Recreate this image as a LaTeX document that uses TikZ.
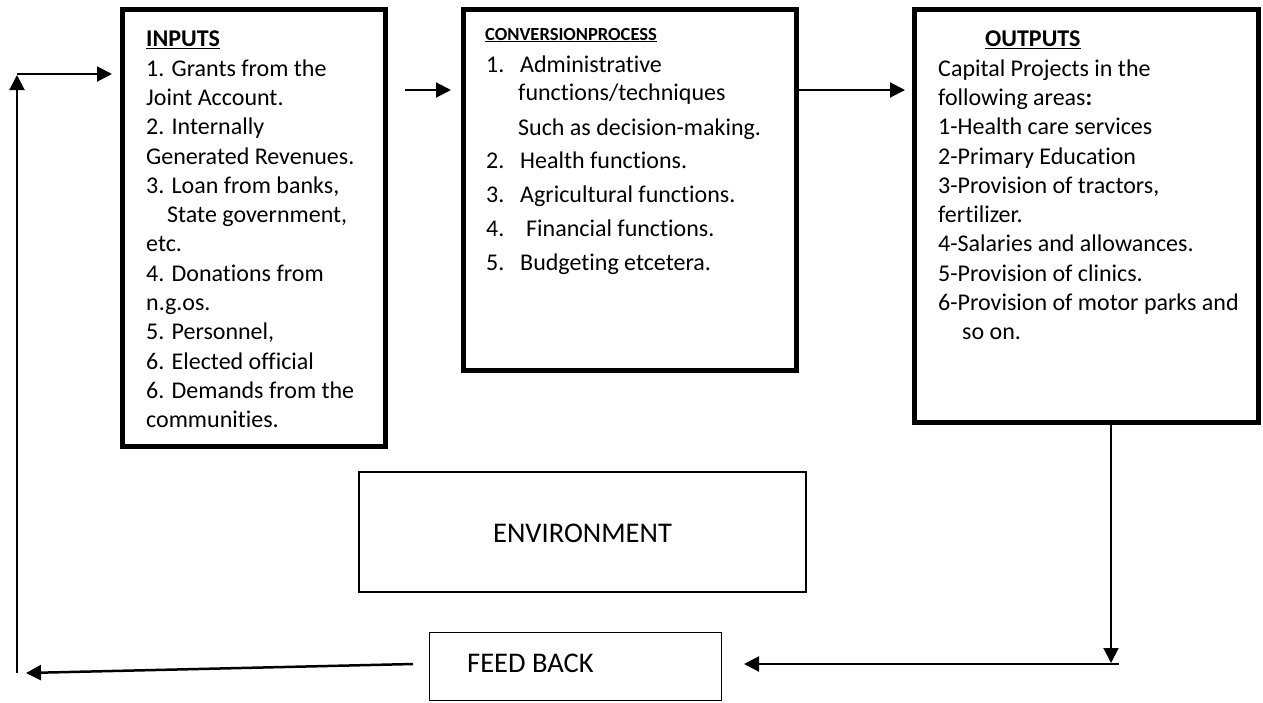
\documentclass[tikz,border=0pt]{standalone}
\usepackage{fontspec}
\setmainfont{Carlito}[Ligatures=NoCommon]
\usetikzlibrary{arrows.meta}
\begin{document}
\begin{tikzpicture}[x=1pt,y=-1pt,
  thickbox/.style={draw, line width=5pt, inner sep=0pt, outer sep=0pt},
  thinbox/.style={draw, line width=1.5pt, inner sep=0pt, outer sep=0pt},
  txt/.style={anchor=base west, inner sep=0pt, font=\fontsize{24}{28}\selectfont},
  hd/.style={anchor=base west, inner sep=0pt, font=\fontsize{24}{28}\selectfont\bfseries},
  shd/.style={anchor=base west, inner sep=0pt, font=\fontsize{18.5}{20}\selectfont\bfseries},
  big/.style={inner sep=0pt, font=\fontsize{28.5}{32}\selectfont},
  arr/.style={line width=2pt, -{Triangle[length=15pt,width=15pt]}}]
\useasboundingbox (0,0) rectangle (1263,702);

% boxes
\node[thickbox, minimum width=263pt, minimum height=437pt] (inputs) at (254,228) {};
\node[thickbox, minimum width=333pt, minimum height=361pt] (conv) at (630,190) {};
\node[thickbox, minimum width=343.5pt, minimum height=413pt] (outputs) at (1086.25,216) {};
\node[thinbox, minimum width=447pt, minimum height=120pt] (env) at (582.5,532) {};
\node[thinbox, minimum width=292pt, minimum height=68pt] (fb) at (575.5,666.5) {};

% inputs text
\node[hd] (i0) at (146,46.7) {\underline{INPUTS}};
\node[txt] (i1) at (146,76) {1. Grants from the};
\node[txt] (i2) at (146,105.3) {Joint Account.};
\node[txt] (i3) at (146,134.6) {2. Internally};
\node[txt] (i4) at (146,164) {Generated Revenues.};
\node[txt] (i5) at (146,193.2) {3. Loan from banks,};
\node[txt] (i6) at (167,222.5) {State government,};
\node[txt] (i7) at (146,251.8) {etc.};
\node[txt] (i8) at (146,281) {4. Donations from};
\node[txt] (i9) at (146,310.4) {n.g.os.};
\node[txt] (i10) at (146,339.7) {5. Personnel,};
\node[txt] (i11) at (146,369) {6. Elected official};
\node[txt] (i12) at (146,398.3) {6. Demands from the};
\node[txt] (i13) at (146,427.6) {communities.};

% conversion text
\node[shd] (c0) at (485,40) {\underline{CONVERSIONPROCESS}};
\node[txt] (c1n) at (486,72) {1.};
\node[txt] (c1) at (520,72) {Administrative};
\node[txt] (c1b) at (518,100) {functions/techniques};
\node[txt] (c1c) at (518,135) {Such as decision-making.};
\node[txt] (c2n) at (486,168) {2.};
\node[txt] (c2) at (520,168) {Health functions.};
\node[txt] (c3n) at (486,202) {3.};
\node[txt] (c3) at (520,202) {Agricultural functions.};
\node[txt] (c4n) at (486,236) {4.};
\node[txt] (c4) at (526,236) {Financial functions.};
\node[txt] (c5n) at (486,270) {5.};
\node[txt] (c5) at (520,270) {Budgeting etcetera.};

% outputs text
\node[hd] (o0) at (985,46.7) {\underline{OUTPUTS}};
\node[txt] (o1) at (938,76) {Capital Projects in the};
\node[txt] (o2) at (938,105.3) {following areas\textbf{:}};
\node[txt] (o3) at (938,134.6) {1-Health care services};
\node[txt] (o4) at (938,164) {2-Primary Education};
\node[txt] (o5) at (938,193.2) {3-Provision of tractors,};
\node[txt] (o6) at (938,222.5) {fertilizer.};
\node[txt] (o7) at (938,251.8) {4-Salaries and allowances.};
\node[txt] (o8) at (938,281) {5-Provision of clinics.};
\node[txt] (o9) at (938,310.4) {6-Provision of motor parks and};
\node[txt] (o10) at (962,339.7) {so on.};

% environment and feedback labels
\node[big] (envt) at (582.5,533) {ENVIRONMENT};
\node[big, anchor=west] (fbt) at (467,663) {FEED BACK};

% connectors
\coordinate (ya) at (0,90);
\draw[arr, shorten <=19.5pt, shorten >=12.5pt] (inputs.east |- ya) -- (conv.west |- ya);
\draw[arr, shorten >=9.5pt] (conv.east |- ya) -- (outputs.west |- ya);

\coordinate (oc) at (1111,663);
\draw[arr] (oc |- outputs.south) -- (oc);
\coordinate (rc) at (1119,664);
\draw[arr, shorten >=22.5pt] (rc) -- (fb.east |- rc);

\coordinate (fbs) at (413,664);
\coordinate (lc) at (26,673);
\draw[arr, line width=2.5pt] (fbs) -- (lc);

\coordinate (bl) at (17,673);
\coordinate (tl) at (17,75);
\draw[arr] (bl) -- (tl);
\coordinate (th) at (17,74);
\draw[arr, shorten >=10.5pt] (th) -- (inputs.west |- th);
\end{tikzpicture}
\end{document}
